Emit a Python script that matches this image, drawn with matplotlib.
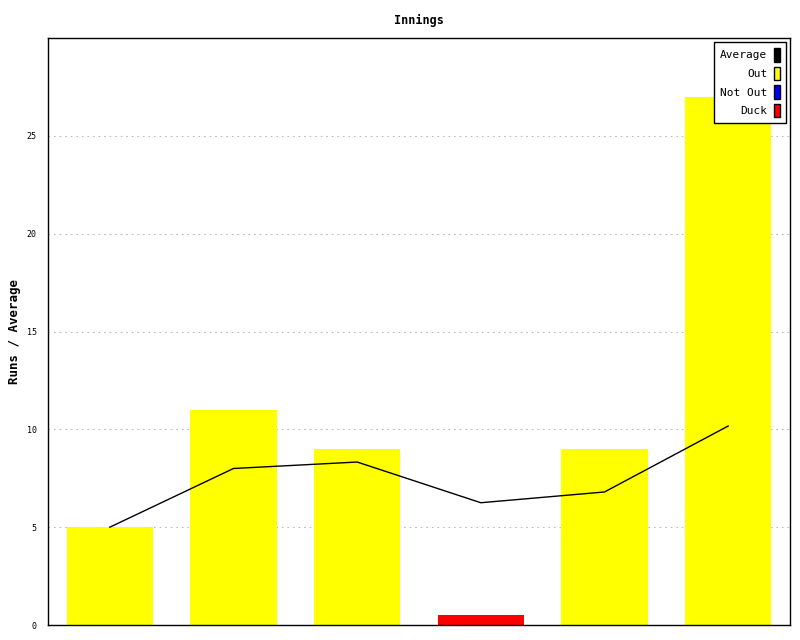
import numpy as np
import matplotlib
matplotlib.use("Agg")
import matplotlib.pyplot as plt
from matplotlib.patches import Patch

# runs per innings and how each innings ended
runs = [5, 11, 9, 0, 9, 27]
status = ["Out", "Out", "Out", "Duck", "Out", "Out"]
# running average after each innings
average = [5.0, 8.0, 8.33, 6.25, 6.8, 10.17]

colours = {"Out": "#ffff00", "Not Out": "#0000ff", "Duck": "#ff0000"}

plt.rcParams['font.family'] = ['DejaVu Sans Mono']

fig = plt.figure(figsize=(8, 6.4), dpi=100)
ax = fig.add_axes([0.06, 0.0234, 0.9275, 0.9172])

x = np.arange(len(runs))
heights = [r if s != "Duck" else 0.5 for r, s in zip(runs, status)]
ax.bar(x, heights, width=0.7, color=[colours[s] for s in status], zorder=2)
ax.plot(x, average, color="black", linewidth=1, zorder=3)

ax.set_xlim(-0.5, len(runs) - 0.5)
ax.set_ylim(0, 30)
ax.set_yticks([0, 5, 10, 15, 20, 25])
ax.set_xticks([])
ax.tick_params(axis="y", length=0, pad=8, labelsize=6)
ax.yaxis.grid(True, linestyle=(0, (1.5, 3.5)), color="#bbbbbb", linewidth=0.8, zorder=0)
for sp in ax.spines.values():
    sp.set_linewidth(1)

ax.set_title("Innings", fontsize=8.5, fontweight="bold", pad=10)
ax.set_ylabel("Runs / Average", fontsize=9, fontweight="bold", labelpad=4)

handles = [Patch(facecolor="black", edgecolor="black", label="Average"),
           Patch(facecolor=colours["Out"], edgecolor="black", label="Out"),
           Patch(facecolor=colours["Not Out"], edgecolor="black", label="Not Out"),
           Patch(facecolor=colours["Duck"], edgecolor="black", label="Duck")]
leg = ax.legend(handles=handles, loc="upper right", markerfirst=False, fontsize=8,
                handlelength=0.55, handleheight=1.5, handletextpad=0.6,
                labelspacing=0.45, borderpad=0.5, fancybox=False, framealpha=1,
                edgecolor="black", borderaxespad=0.4)
leg.get_frame().set_linewidth(1)

fig.savefig("out.png", dpi=100)
